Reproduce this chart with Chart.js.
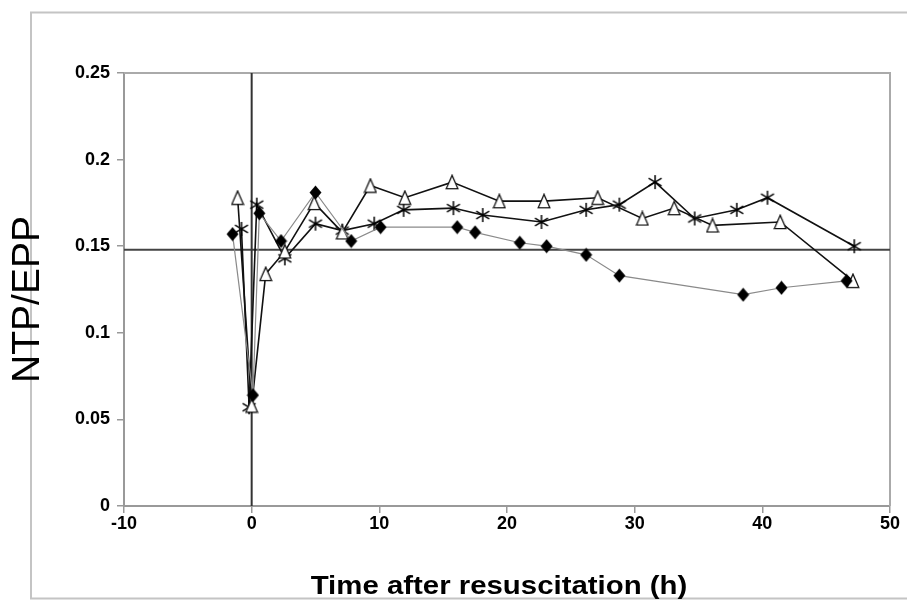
<!DOCTYPE html>
<html><head><meta charset="utf-8">
<script src="https://cdn.jsdelivr.net/npm/chart.js@4"></script>
<style>html,body{margin:0;padding:0;background:#fff;}canvas{display:block;}</style>
</head><body>
<canvas id="c" width="907" height="601"></canvas>
<script>
// ---- data ----
const diamondX = [-1.5, 0.1, 0.6, 2.3, 5.0, 7.8, 10.1, 16.1, 17.5, 21.0, 23.1, 26.2, 28.8, 38.5, 41.5, 46.6];
const diamondY = [0.157, 0.064, 0.169, 0.153, 0.181, 0.153, 0.161, 0.161, 0.158, 0.152, 0.150, 0.145, 0.133, 0.122, 0.126, 0.130];
const triangleX = [-1.1, 0.0, 1.1, 2.6, 4.9, 7.1, 9.3, 12.0, 15.7, 19.4, 22.9, 27.1, 30.6, 33.1, 36.1, 41.4, 47.1];
const triangleY = [0.178, 0.058, 0.134, 0.147, 0.175, 0.158, 0.185, 0.178, 0.187, 0.176, 0.176, 0.178, 0.166, 0.172, 0.162, 0.164, 0.130];
const starX = [-0.8, -0.2, 0.4, 2.6, 5.0, 7.1, 9.6, 11.9, 15.8, 18.1, 22.7, 26.2, 28.8, 31.6, 34.7, 38.0, 40.4, 47.2];
const starY = [0.160, 0.057, 0.174, 0.143, 0.163, 0.159, 0.163, 0.171, 0.172, 0.168, 0.164, 0.171, 0.174, 0.187, 0.166, 0.171, 0.178, 0.150];
const refX = 0;        // vertical reference line (resuscitation)
const refY = 0.148;    // horizontal reference line
const xTickLabels = ['-10', '0', '10', '20', '30', '40', '50'];
const yTickLabels = ['0', '0.05', '0.1', '0.15', '0.2', '0.25'];
const xTitle = 'Time after resuscitation (h)';
const yTitle = 'NTP/EPP';

function pts(xs, ys) { return xs.map((x, i) => ({ x: x, y: ys[i] })); }

function makeMarker(w, h, draw) {
  const c = document.createElement('canvas');
  c.width = w; c.height = h;
  draw(c.getContext('2d'));
  return c;
}
// asterisk marker
const starImg = makeMarker(16, 16, (g) => {
  g.strokeStyle = '#000'; g.lineWidth = 1.5;
  g.beginPath();
  g.moveTo(8, 1); g.lineTo(8, 15);
  g.moveTo(1.5, 4.2); g.lineTo(14.5, 11.8);
  g.moveTo(1.5, 11.8); g.lineTo(14.5, 4.2);
  g.stroke();
});
// open triangle marker (taller than wide)
const triImg = makeMarker(14, 16, (g) => {
  g.fillStyle = '#fff'; g.strokeStyle = '#111'; g.lineWidth = 1.3;
  g.beginPath();
  g.moveTo(7, 1.2); g.lineTo(12.8, 14.6); g.lineTo(1.2, 14.6); g.closePath();
  g.fill(); g.stroke();
});
// filled diamond marker
const diaImg = makeMarker(13, 15, (g) => {
  g.fillStyle = '#000';
  g.beginPath();
  g.moveTo(6.5, 0.5); g.lineTo(12.5, 7.5); g.lineTo(6.5, 14.5); g.lineTo(0.5, 7.5); g.closePath();
  g.fill();
});

const framePlugin = {
  id: 'frame',
  beforeDraw(chart) {
    const ctx = chart.ctx;
    ctx.save();
    ctx.fillStyle = '#fff';
    ctx.fillRect(0, 0, chart.width, chart.height);
    ctx.strokeStyle = '#c4c4c4'; ctx.lineWidth = 2;
    ctx.beginPath();
    ctx.moveTo(907, 12.5); ctx.lineTo(31, 12.5); ctx.lineTo(31, 598.5); ctx.lineTo(907, 598.5);
    ctx.stroke();
    ctx.restore();
  },
  beforeDatasetsDraw(chart) {
    const ctx = chart.ctx, a = chart.chartArea;
    ctx.save();
    ctx.strokeStyle = '#aaa'; ctx.lineWidth = 2;
    ctx.beginPath();
    ctx.moveTo(a.left, a.top); ctx.lineTo(a.right, a.top); ctx.lineTo(a.right, a.bottom);
    ctx.stroke();
    ctx.restore();
  },
  afterDraw(chart) {
    const ctx = chart.ctx, a = chart.chartArea;
    ctx.save();
    ctx.translate(28, (a.top + a.bottom) / 2 + 10);
    ctx.rotate(-Math.PI / 2);
    ctx.font = '39px "Liberation Sans", Arial, sans-serif';
    ctx.fillStyle = '#000';
    ctx.textAlign = 'center'; ctx.textBaseline = 'middle';
    ctx.fillText(yTitle, 0, 0);
    ctx.restore();
    ctx.save();
    ctx.translate(499, 594);
    ctx.scale(1.13, 1);
    ctx.font = 'bold 26px "Liberation Sans", Arial, sans-serif';
    ctx.fillStyle = '#000';
    ctx.textAlign = 'center'; ctx.textBaseline = 'alphabetic';
    ctx.fillText(xTitle, 0, 0);
    ctx.restore();
  }
};

const tickFont = { family: '"Liberation Sans", Arial, sans-serif', size: 18, weight: 'bold' };

new Chart(document.getElementById('c'), {
  type: 'scatter',
  data: {
    datasets: [
      { label: 'diamond', data: pts(diamondX, diamondY), showLine: true, order: 0,
        borderColor: '#8a8a8a', borderWidth: 1.2, pointStyle: diaImg, pointRadius: 7 },
      { label: 'triangle', data: pts(triangleX, triangleY), showLine: true, order: 1,
        borderColor: '#111', borderWidth: 1.6, pointStyle: triImg, pointRadius: 8 },
      { label: 'star', data: pts(starX, starY), showLine: true, order: 2,
        borderColor: '#111', borderWidth: 1.6, pointStyle: starImg, pointRadius: 8 },
      { label: 'vref', data: [{ x: refX, y: 0 }, { x: refX, y: 0.25 }], showLine: true, order: 3,
        borderColor: '#333', borderWidth: 2, pointRadius: 0 },
      { label: 'href', data: [{ x: -10, y: refY }, { x: 50, y: refY }], showLine: true, order: 4,
        borderColor: '#444', borderWidth: 2, pointRadius: 0 }
    ]
  },
  options: {
    responsive: false, animation: false, devicePixelRatio: 1,
    layout: { padding: { top: 73, right: 17, bottom: 0, left: 0 } },
    plugins: { legend: { display: false }, tooltip: { enabled: false } },
    elements: { line: { tension: 0 } },
    scales: {
      x: {
        type: 'linear', min: -10, max: 50,
        ticks: { stepSize: 10, autoSkip: false, font: tickFont, color: '#000', padding: 0,
          callback: (v) => xTickLabels[Math.round((v + 10) / 10)] },
        grid: { drawOnChartArea: false, drawTicks: true, tickLength: 7, color: '#999', lineWidth: 1.5 },
        border: { display: true, color: '#999', width: 2 },
        afterFit: (s) => { s.height = 95; }
      },
      y: {
        type: 'linear', min: 0, max: 0.25,
        ticks: { stepSize: 0.05, autoSkip: false, font: tickFont, color: '#000', padding: 7,
          callback: (v) => yTickLabels[Math.round(v / 0.05)] },
        grid: { drawOnChartArea: false, drawTicks: true, tickLength: 7, color: '#999', lineWidth: 1.5 },
        border: { display: true, color: '#999', width: 2 },
        afterFit: (s) => { s.width = 124; }
      }
    }
  },
  plugins: [framePlugin]
});
</script>
</body></html>
